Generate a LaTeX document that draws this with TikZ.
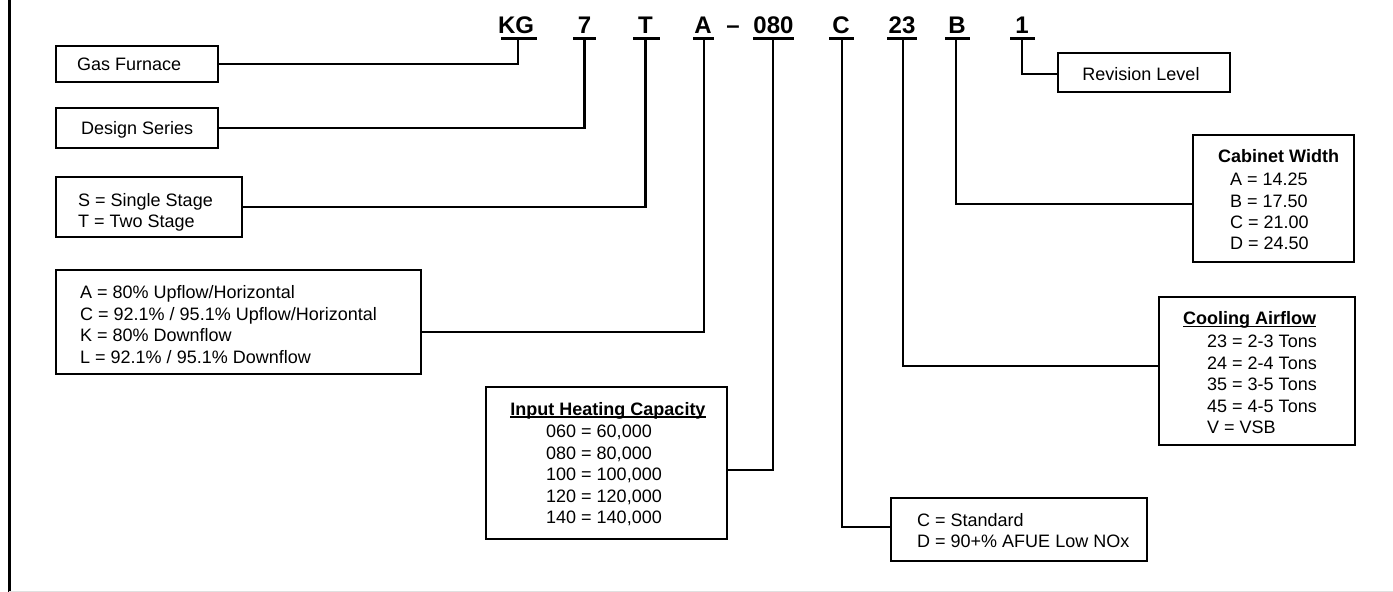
\documentclass[tikz,border=0pt]{standalone}
\usepackage{fontspec}
\setmainfont{Liberation Sans}
\begin{document}
\begin{tikzpicture}[x=1pt,y=-1pt,
  ln/.style={line width=2.6pt},
  uline/.style={line width=3pt},
  box/.style={draw, line width=2.6pt, inner sep=0pt},
  txt/.style={font=\fontsize{18}{21.5}\selectfont, inner sep=0pt, anchor=base west},
  hd/.style={font=\fontsize{18}{21.5}\selectfont\bfseries, inner sep=0pt},
  code/.style={font=\fontsize{24}{28}\selectfont\bfseries, inner sep=0pt, anchor=base}]
\useasboundingbox (0,0) rectangle (1393,592);
% frame
\draw[line width=3pt] (9,0) -- (9,592);
\draw[black!12, line width=1pt] (9,591) -- (1393,591);
% code letters
\node[code] (kg) at (516,33) {KG};
\node[code] (c7) at (584.5,33) {7};
\node[code] (cT) at (645.5,33) {T};
\node[code] (cA) at (703,33) {A};
\node[code] (cdash) at (733,33) {–};
\node[code] (c080) at (773.5,33) {080};
\node[code] (cC) at (841,33) {C};
\node[code] (c23) at (902,33) {23};
\node[code] (cB) at (957,33) {B};
\node[code] (c1) at (1022,33) {1};
% underline stems
\coordinate (kgS) at (518,38);
\coordinate (s7) at (584.5,38);
\coordinate (sT) at (645.5,38);
\coordinate (sA) at (704,38);
\coordinate (s080) at (773,38);
\coordinate (sC) at (842,38);
\coordinate (s23) at (903,38);
\coordinate (sB) at (956,38);
\coordinate (s1) at (1022,38);
\draw[uline] (501,38) -- (537,38);
\draw[uline] (573,38) -- (596,38);
\draw[uline] (633,38) -- (660,38);
\draw[uline] (693,38) -- (714,38);
\draw[uline] (753,38) -- (794,38);
\draw[uline] (829,38) -- (854,38);
\draw[uline] (887,38) -- (917,38);
\draw[uline] (945,38) -- (970,38);
\draw[uline] (1010,38) -- (1035,38);
% boxes
\node[box, minimum width=162pt, minimum height=36pt] (gas) at (137,64) {};
\node[box, minimum width=162pt, minimum height=40pt] (design) at (137,128) {};
\node[box, minimum width=186pt, minimum height=60pt] (stage) at (149,207) {};
\node[box, minimum width=365pt, minimum height=104pt] (model) at (238.5,322) {};
\node[box, minimum width=241pt, minimum height=152pt] (input) at (606.5,463) {};
\node[box, minimum width=256pt, minimum height=63pt] (nox) at (1019,529.5) {};
\node[box, minimum width=196pt, minimum height=148pt] (cool) at (1257,371) {};
\node[box, minimum width=161pt, minimum height=127pt] (cab) at (1273.5,198.5) {};
\node[box, minimum width=172pt, minimum height=39pt] (rev) at (1144,72.5) {};
% texts
\node[txt] (tgas) at (77,70.5) {Gas Furnace};
\node[txt] (tdes) at (81,134.5) {Design Series};
\node[txt] (ts1) at (78,206.5) {S = Single Stage};
\node[txt] (ts2) at (78,227) {T = Two Stage};
\node[txt] (tm1) at (80,298.5) {A = 80\% Upflow/Horizontal};
\node[txt] (tm2) at (80,320) {C = 92.1\% / 95.1\% Upflow/Horizontal};
\node[txt] (tm3) at (80,341.5) {K = 80\% Downflow};
\node[txt] (tm4) at (80,363) {L = 92.1\% / 95.1\% Downflow};
\node[hd, anchor=base] (ih) at (608,415) {Input Heating Capacity};
\draw[line width=1.3pt] ([yshift=-2pt]ih.base west) -- ([yshift=-2pt]ih.base east);
\node[txt] (ti1) at (546,437.5) {060 = 60,000};
\node[txt] (ti2) at (546,459) {080 = 80,000};
\node[txt] (ti3) at (546,480.5) {100 = 100,000};
\node[txt] (ti4) at (546,502) {120 = 120,000};
\node[txt] (ti5) at (546,523.5) {140 = 140,000};
\node[txt] (tn1) at (917,526.5) {C = Standard};
\node[txt] (tn2) at (917,547.5) {D = 90+\% AFUE Low NOx};
\node[hd, anchor=base west] (ch) at (1183,324.5) {Cooling Airflow};
\draw[line width=1.3pt] ([yshift=-2pt]ch.base west) -- ([yshift=-2pt]ch.base east);
\node[txt] (tc1) at (1207,347.5) {23 = 2-3 Tons};
\node[txt] (tc2) at (1207,369) {24 = 2-4 Tons};
\node[txt] (tc3) at (1207,390.5) {35 = 3-5 Tons};
\node[txt] (tc4) at (1207,412) {45 = 4-5 Tons};
\node[txt] (tc5) at (1207,433.5) {V = VSB};
\node[hd, anchor=base west] (cbh) at (1218,162.5) {Cabinet Width};
\node[txt] (tb1) at (1230,185.5) {A = 14.25};
\node[txt] (tb2) at (1230,207) {B = 17.50};
\node[txt] (tb3) at (1230,228) {C = 21.00};
\node[txt] (tb4) at (1230,249.5) {D = 24.50};
\node[txt, anchor=base] (trev) at (1141,80.5) {Revision Level};
% connectors
\draw[ln] (kgS) |- (gas.east);
\draw[ln] (s7) |- (design.east);
\draw[ln] (sT) |- (stage.east);
\draw[ln] (sA) |- (model.east |- 0,332);
\draw[ln] (s080) |- (input.east |- 0,470);
\draw[ln] (sC) |- (nox.west |- 0,527);
\draw[ln] (s23) |- (cool.west |- 0,366);
\draw[ln] (sB) |- (cab.west |- 0,204);
\draw[ln] (s1) |- (rev.west |- 0,74);
\end{tikzpicture}
\end{document}
